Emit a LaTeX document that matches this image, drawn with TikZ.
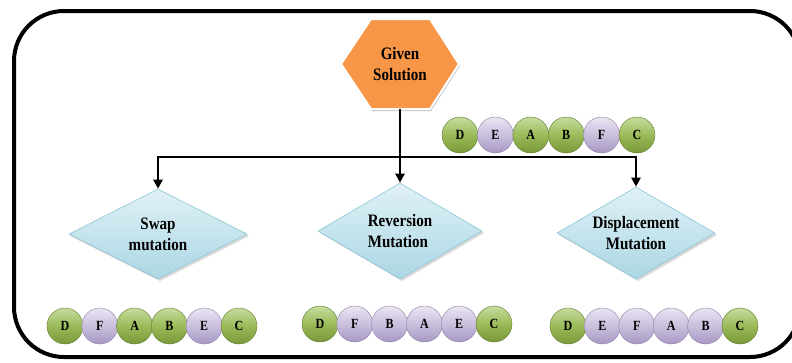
\documentclass[tikz,border=0pt]{standalone}
\usepackage{fontspec}
\setmainfont{Liberation Serif}
\newfontfamily\tallserif[FakeStretch=0.86]{Liberation Serif}
\usetikzlibrary{shapes.geometric,calc,arrows.meta}
\definecolor{hexorange}{HTML}{F79646}
\definecolor{gbase}{HTML}{9BBB59}
\definecolor{glight}{HTML}{C6DC9E}
\definecolor{gdark}{HTML}{78983A}
\definecolor{pbase}{HTML}{CABFDD}
\definecolor{plight}{HTML}{EAE5F2}
\definecolor{pdark}{HTML}{A797C4}
\definecolor{dialight}{HTML}{E0F1F6}
\definecolor{diadark}{HTML}{ABD7E4}
\definecolor{diaborder}{HTML}{8CC6D6}
\tikzset{
  beadbase/.style={circle, minimum size=36pt, inner sep=0pt, font=\tallserif\fontsize{14}{16}\selectfont\bfseries},
  beadg/.style={beadbase, top color=glight, bottom color=gdark, middle color=gbase, draw=gdark!80!black, line width=0.4pt},
  beadp/.style={beadbase, top color=plight, bottom color=pdark, middle color=pbase, draw=pdark!85!black, line width=0.4pt},
  dia/.style={diamond, inner sep=-40pt, top color=dialight, bottom color=diadark, draw=diaborder, line width=0.6pt,
    font=\tallserif\fontsize{17.5}{21}\selectfont\bfseries},
  hexnode/.style={minimum width=118pt, minimum height=90pt, inner sep=0pt, align=center,
    font=\tallserif\fontsize{17.5}{21}\selectfont\bfseries},
  conn/.style={line width=2.8pt, black},
  arr/.style={conn, -{Triangle[width=9pt,length=9pt]}}
}
\begin{document}
\begin{tikzpicture}[x=1pt,y=-1pt]
\useasboundingbox (0,0) rectangle (792,362);
\draw[line width=4pt, rounded corners=50pt] (14,11) rectangle (800,357);

% hexagon shape
\fill[gray!45] (342,66) -- (372,21) -- (431,21) -- (460,66) -- (431,111) -- (372,111) -- cycle;
\draw[white, line width=2pt, fill=hexorange] (341,64) -- (371,19) -- (430,19) -- (459,64) -- (430,109) -- (371,109) -- cycle;
\node[hexnode] (hex) at (400,64) {Given\\Solution};

% diamonds
\fill[gray!30] (70,236) -- (160,191) -- (249,236) -- (160,281) -- cycle;
\node[dia, minimum width=178pt, minimum height=90pt, align=center] (swap) at (158,234) {Swap\\mutation};
\fill[gray!30] (320,233) -- (402,185) -- (484,233) -- (402,281) -- cycle;
\node[dia, minimum width=164pt, minimum height=96pt, align=left] (rev) at (400,231) {Reversion\\Mutation};
\fill[gray!30] (559,235) -- (638,189) -- (717,235) -- (638,281) -- cycle;
\node[dia, minimum width=158pt, minimum height=92pt, align=center] (disp) at (636,233) {Displacement\\Mutation};

% connectors
\coordinate (j) at (400,157);
\draw[conn] (hex.south) -- (j);
\draw[arr] (j) -- (rev.north);
\draw[arr] (j) -| (swap.north);
\draw[arr] (j) -| (disp.north);

% beads
\foreach \l/\c [count=\i from 0] in {D/g,E/p,A/g,B/g,F/p,C/g}
  \node[bead\c] (t\i) at (460+35.4*\i,135) {\l};
\foreach \l/\c [count=\i from 0] in {D/g,F/p,A/g,B/g,E/p,C/g}
  \node[bead\c] (s\i) at (65+34.8*\i,326) {\l};
\foreach \l/\c [count=\i from 0] in {D/g,F/p,B/p,A/p,E/p,C/g}
  \node[bead\c] (r\i) at (320+34.8*\i,324) {\l};
\foreach \l/\c [count=\i from 0] in {D/g,E/p,F/p,A/p,B/p,C/g}
  \node[bead\c] (d\i) at (568+34.4*\i,326) {\l};
\end{tikzpicture}
\end{document}
